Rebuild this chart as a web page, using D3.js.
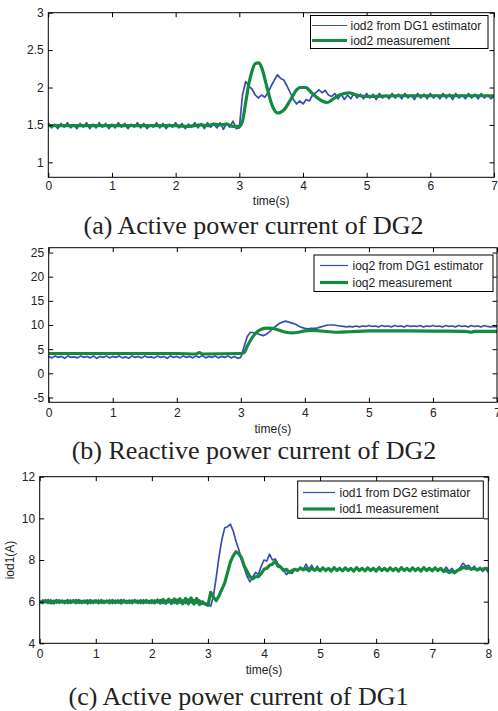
<!DOCTYPE html>
<html>
<head>
<meta charset="utf-8">
<script src="https://cdn.jsdelivr.net/npm/d3@7"></script>
<style>
  body { margin: 0; background: #fff; }
  svg { display: block; }
</style>
</head>
<body>
<svg id="fig" width="498" height="711"></svg>
<script>
// Sampling step of the estimator traces (s)
const dt = 0.05;

// (a) iod2 estimated by DG1, sampled every dt from 0 to 7 s
const iod2Est = [
  1.53,1.46,1.51,1.45,1.52,1.47,1.53,1.46,1.50,1.45,1.52,1.47,1.53,1.45,1.51,1.46,1.53,1.47,1.52,1.45,
  1.51,1.46,1.53,1.47,1.52,1.45,1.51,1.47,1.53,1.46,1.52,1.45,1.50,1.47,1.53,1.46,1.52,1.45,1.51,1.47,
  1.53,1.46,1.52,1.45,1.51,1.47,1.53,1.46,1.52,1.45,1.53,1.47,1.51,1.46,1.53,1.44,1.52,1.47,1.55,1.45,
  1.46,1.90,2.08,2.02,1.98,1.90,1.86,1.90,1.87,1.93,2.02,2.10,2.17,2.12,2.10,2.02,1.93,1.84,1.78,1.82,
  1.78,1.84,1.82,1.90,1.93,1.97,1.93,1.96,1.90,1.88,1.92,1.85,1.91,1.84,1.90,1.85,1.92,1.86,1.91,1.85,
  1.92,1.86,1.91,1.84,1.92,1.86,1.90,1.85,1.92,1.86,1.91,1.85,1.92,1.86,1.90,1.84,1.92,1.86,1.91,1.85,
  1.92,1.86,1.90,1.85,1.92,1.86,1.91,1.84,1.92,1.86,1.90,1.85,1.92,1.86,1.91,1.85,1.92,1.86,1.90,1.85,1.88
];
// (a) iod2 measurement
const iod2MeasT = [0,0.5,1,1.5,2,2.2,2.4,2.5,2.6,2.7,2.8,2.9,3.0,3.05,3.1,3.15,3.2,3.25,3.3,3.35,3.4,3.45,3.5,3.55,3.6,3.65,3.7,3.8,3.9,3.95,4.0,4.05,4.1,4.2,4.3,4.38,4.45,4.55,4.65,4.72,4.8,4.9,5.0,5.5,6.0,6.5,7.0];
const iod2MeasV = [1.49,1.49,1.49,1.49,1.49,1.48,1.50,1.49,1.51,1.50,1.51,1.48,1.48,1.55,1.80,2.05,2.22,2.32,2.33,2.27,2.12,1.95,1.80,1.70,1.66,1.67,1.70,1.83,1.97,2.00,2.00,2.00,1.96,1.88,1.82,1.80,1.83,1.89,1.92,1.93,1.91,1.89,1.88,1.89,1.89,1.89,1.89];

// (b) ioq2 estimated by DG1, sampled every dt from 0 to 7 s
const ioq2Est = [
  3.5,3.2,3.6,3.3,3.5,3.1,3.6,3.3,3.4,3.2,3.6,3.3,3.5,3.2,3.6,3.1,3.5,3.3,3.6,3.2,
  3.5,3.3,3.6,3.2,3.4,3.1,3.6,3.3,3.5,3.2,3.6,3.3,3.4,3.2,3.6,3.3,3.5,3.1,3.6,3.3,
  3.5,3.2,3.6,3.3,3.5,3.2,3.6,3.3,3.7,3.2,3.5,3.3,3.6,3.2,3.5,3.3,3.6,3.2,3.5,3.1,
  3.3,5.5,7.6,8.5,8.4,8.3,8.0,7.8,8.1,8.6,9.3,9.8,10.3,10.6,10.8,10.6,10.4,10.2,9.8,9.5,
  9.3,9.2,9.3,9.3,9.4,9.6,9.8,10.0,10.0,10.0,9.9,9.8,9.7,9.6,9.7,9.6,9.8,9.6,9.8,9.7,
  9.9,9.7,9.8,9.6,9.9,9.7,9.8,9.6,9.9,9.7,9.8,9.6,9.9,9.7,9.8,9.7,9.9,9.6,9.8,9.7,
  9.9,9.7,9.8,9.6,9.9,9.7,9.8,9.6,9.9,9.7,9.8,9.6,9.9,9.7,9.8,9.6,9.9,9.7,9.6,9.7,9.6
];
// (b) ioq2 measurement
const ioq2MeasT = [0,1,2,2.3,2.35,2.4,3.0,3.05,3.1,3.15,3.2,3.25,3.3,3.4,3.5,3.6,3.7,3.8,3.9,4.0,4.1,4.2,4.3,4.5,4.7,5.0,5.5,6.0,6.5,6.6,6.65,7.0];
const ioq2MeasV = [4.1,4.1,4.1,4.0,4.3,4.0,4.1,4.3,5.6,6.8,7.8,8.5,9.0,9.35,9.3,8.9,8.5,8.35,8.5,8.8,8.9,8.85,8.7,8.5,8.6,8.8,8.8,8.75,8.7,8.5,8.7,8.7];

// (c) iod1 estimated by DG2, sampled every dt from 0 to 8 s
const iod1Est = [
  5.92,6.08,5.95,6.10,5.90,6.07,5.93,6.09,5.94,6.06,5.91,6.08,5.95,6.10,5.92,6.06,5.93,6.09,5.91,6.07,
  5.94,6.08,5.92,6.06,5.95,6.09,5.91,6.07,5.93,6.10,5.94,6.06,5.92,6.08,5.95,6.07,5.91,6.09,5.93,6.06,
  5.92,6.08,5.94,6.10,5.91,6.07,5.95,6.09,5.92,6.12,5.93,6.08,5.91,6.13,5.94,6.10,5.92,6.08,5.88,5.95,
  5.90,5.78,6.30,7.20,8.20,9.00,9.55,9.60,9.72,9.40,8.90,8.50,8.00,7.60,7.20,6.95,7.20,7.40,7.30,7.70,
  8.00,7.95,8.28,8.00,8.05,7.80,7.70,7.50,7.30,7.45,7.35,7.55,7.50,7.65,7.55,7.80,7.55,7.75,7.50,7.70,
  7.48,7.65,7.45,7.62,7.48,7.66,7.46,7.63,7.47,7.65,7.45,7.62,7.48,7.66,7.46,7.63,7.47,7.65,7.45,7.62,
  7.48,7.66,7.46,7.63,7.47,7.65,7.45,7.62,7.48,7.66,7.46,7.63,7.47,7.65,7.45,7.62,7.48,7.66,7.46,7.63,
  7.47,7.65,7.45,7.62,7.48,7.66,7.46,7.60,7.45,7.50,7.65,7.85,7.70,7.75,7.55,7.70,7.50,7.65,7.45,7.60,7.40
];
// (c) iod1 measurement, sampled every dt from 0 to 8 s
const iod1Meas = [
  6.00,5.94,6.06,5.95,6.05,5.93,6.06,5.96,6.04,5.94,6.06,5.95,6.05,5.94,6.06,5.95,6.04,5.93,6.06,5.95,
  6.05,5.94,6.06,5.95,6.04,5.94,6.06,5.95,6.05,5.93,6.06,5.95,6.04,5.94,6.06,5.95,6.05,5.94,6.06,5.95,
  6.05,5.94,6.08,5.93,6.10,5.92,6.12,5.91,6.13,5.92,6.14,5.90,6.15,5.90,6.18,5.88,6.15,5.86,6.00,5.88,
  5.82,6.45,6.20,6.05,6.30,6.60,6.90,7.40,7.90,8.20,8.40,8.30,8.10,7.70,7.45,7.20,7.10,7.20,7.20,7.35,
  7.55,7.60,7.75,7.80,7.95,7.70,7.65,7.50,7.55,7.40,7.50,7.55,7.50,7.62,7.52,7.60,7.48,7.62,7.50,7.60,
  7.48,7.62,7.50,7.60,7.47,7.63,7.50,7.60,7.48,7.62,7.50,7.60,7.47,7.63,7.50,7.60,7.48,7.62,7.50,7.60,
  7.47,7.63,7.50,7.60,7.48,7.62,7.50,7.60,7.47,7.63,7.50,7.60,7.48,7.62,7.50,7.60,7.47,7.63,7.50,7.60,
  7.48,7.62,7.50,7.60,7.45,7.50,7.40,7.45,7.38,7.50,7.55,7.65,7.60,7.62,7.55,7.60,7.52,7.58,7.55,7.60,7.58
];

// Tick values
const xTicks7 = [0,1,2,3,4,5,6,7];
const xTicks8 = [0,1,2,3,4,5,6,7,8];
const yTicksA = [1,1.5,2,2.5,3];
const yTicksB = [-5,0,5,10,15,20,25];
const yTicksC = [4,6,8,10,12];

// Legend labels and captions
const legendA = ["iod2 from DG1 estimator", "iod2 measurement"];
const legendB = ["ioq2 from DG1 estimator", "ioq2 measurement"];
const legendC = ["iod1 from DG2 estimator", "iod1 measurement"];
const captions = ["(a) Active power current of DG2", "(b) Reactive power current of DG2", "(c) Active power current of DG1"];

const BLUE = "#3a4db4";
const GREEN = "#138a3d";
const AXIS_FONT = "'Liberation Sans', Arial, sans-serif";
const SERIF = "'Liberation Serif', 'Times New Roman', serif";
const FS = 12;

const svg = d3.select("#fig");
svg.append("rect").attr("width", 498).attr("height", 711).attr("fill", "#fff");

const sampled = arr => arr.map((v, i) => [i * dt, v]);
const paired = (ts, vs) => ts.map((t, i) => [t, vs[i]]);

let clipId = 0;
function panel(o) {
  const x = d3.scaleLinear().domain(o.xDomain).range([o.left, o.right]);
  const y = d3.scaleLinear().domain(o.yDomain).range([o.bottom, o.top]);
  const g = svg.append("g");
  const id = "clip" + (clipId++);
  g.append("clipPath").attr("id", id).append("rect")
    .attr("x", o.left).attr("y", o.top)
    .attr("width", o.right - o.left).attr("height", o.bottom - o.top);

  const line = d3.line().x(d => x(d[0])).y(d => y(d[1]));
  const plot = g.append("g").attr("clip-path", `url(#${id})`);
  plot.append("path").datum(o.est).attr("d", line)
    .attr("fill", "none").attr("stroke", BLUE).attr("stroke-width", 1.7)
    .attr("stroke-linejoin", "round");
  plot.append("path").datum(o.meas)
    .attr("d", d3.line().x(d => x(d[0])).y(d => y(d[1])).curve(o.measCurve || d3.curveLinear))
    .attr("fill", "none").attr("stroke", GREEN).attr("stroke-width", 3.2)
    .attr("stroke-linejoin", "round");

  const tk = 4.5;
  const styleAxis = sel => {
    sel.select(".domain").remove();
    sel.selectAll("line").attr("stroke", "#000");
    sel.selectAll("text").attr("font-family", AXIS_FONT).attr("font-size", FS).attr("fill", "#222");
  };
  g.append("g").attr("transform", `translate(0,${o.bottom})`)
    .call(d3.axisBottom(x).tickValues(o.xTicks).tickSize(-tk).tickPadding(o.xPad).tickFormat(d3.format("d")))
    .call(styleAxis);
  g.append("g").attr("transform", `translate(0,${o.top})`)
    .call(d3.axisTop(x).tickValues(o.xTicks).tickSize(-tk).tickFormat(""))
    .call(styleAxis);
  g.append("g").attr("transform", `translate(${o.left},0)`)
    .call(d3.axisLeft(y).tickValues(o.yTicks).tickSize(-tk).tickPadding(4.5).tickFormat(d => String(d)))
    .call(styleAxis);
  g.append("g").attr("transform", `translate(${o.right},0)`)
    .call(d3.axisRight(y).tickValues(o.yTicks).tickSize(-tk).tickFormat(""))
    .call(styleAxis);

  g.append("rect").attr("x", o.left).attr("y", o.top)
    .attr("width", o.right - o.left).attr("height", o.bottom - o.top)
    .attr("fill", "none").attr("stroke", "#000").attr("stroke-width", 1);

  g.append("text").attr("x", (o.left + o.right) / 2).attr("y", o.xLabelY)
    .attr("text-anchor", "middle").attr("font-family", AXIS_FONT).attr("font-size", FS).attr("fill", "#222")
    .text("time(s)");
  if (o.yLabel) {
    g.append("text").attr("transform", `translate(${o.yLabelX},${(o.top + o.bottom) / 2}) rotate(-90)`)
      .attr("text-anchor", "middle").attr("font-family", AXIS_FONT).attr("font-size", FS).attr("fill", "#222")
      .text(o.yLabel);
  }

  // legend
  const L = o.legend;
  const lg = g.append("g");
  lg.append("rect").attr("x", L.x0).attr("y", L.y0).attr("width", L.x1 - L.x0).attr("height", L.y1 - L.y0)
    .attr("fill", "#fff").attr("stroke", "#000").attr("stroke-width", 1);
  L.rows.forEach((ry, i) => {
    lg.append("line").attr("x1", L.s0).attr("x2", L.s1).attr("y1", ry).attr("y2", ry)
      .attr("stroke", i === 0 ? BLUE : GREEN).attr("stroke-width", i === 0 ? 1.2 : 3.2);
    lg.append("text").attr("x", L.tx).attr("y", ry).attr("dy", "0.35em")
      .attr("font-family", AXIS_FONT).attr("font-size", FS).attr("fill", "#222")
      .text(o.legendLabels[i]);
  });

  svg.append("text").attr("x", o.capX).attr("y", o.capY).attr("text-anchor", "middle")
    .attr("font-family", SERIF).attr("font-size", 26).attr("fill", "#222")
    .text(o.caption);
}

panel({
  xDomain: [0, 7], yDomain: [0.8, 3], left: 48.3, right: 494, top: 12.7, bottom: 177.3,
  est: sampled(iod2Est), meas: paired(iod2MeasT, iod2MeasV), measCurve: d3.curveMonotoneX,
  xTicks: xTicks7, yTicks: yTicksA, xPad: 4, xLabelY: 205,
  legend: { x0: 310.5, x1: 488, y0: 15.5, y1: 48.5, s0: 312, s1: 347, tx: 350.5, rows: [25.5, 40.5] },
  legendLabels: legendA, caption: captions[0], capX: 253.5, capY: 234
});

panel({
  xDomain: [0, 7], yDomain: [-6, 26], left: 48.7, right: 497, top: 247.7, bottom: 402.3,
  est: sampled(ioq2Est), meas: paired(ioq2MeasT, ioq2MeasV), measCurve: d3.curveMonotoneX,
  xTicks: xTicks7, yTicks: yTicksB, xPad: 6.4, xLabelY: 433,
  legend: { x0: 314, x1: 493, y0: 255, y1: 291.5, s0: 320, s1: 348, tx: 352.5, rows: [265.5, 282.5] },
  legendLabels: legendB, caption: captions[1], capX: 254, capY: 459
});

panel({
  xDomain: [0, 8], yDomain: [4, 12], left: 39.7, right: 488.3, top: 476.7, bottom: 643.3,
  est: sampled(iod1Est), meas: sampled(iod1Meas),
  xTicks: xTicks8, yTicks: yTicksC, xPad: 6.2, xLabelY: 674,
  yLabel: "iod1(A)", yLabelX: 14,
  legend: { x0: 297.7, x1: 483.3, y0: 481, y1: 518.3, s0: 303, s1: 335, tx: 339.5, rows: [492.5, 509] },
  legendLabels: legendC, caption: captions[2], capX: 238.5, capY: 705
});
</script>
</body>
</html>
